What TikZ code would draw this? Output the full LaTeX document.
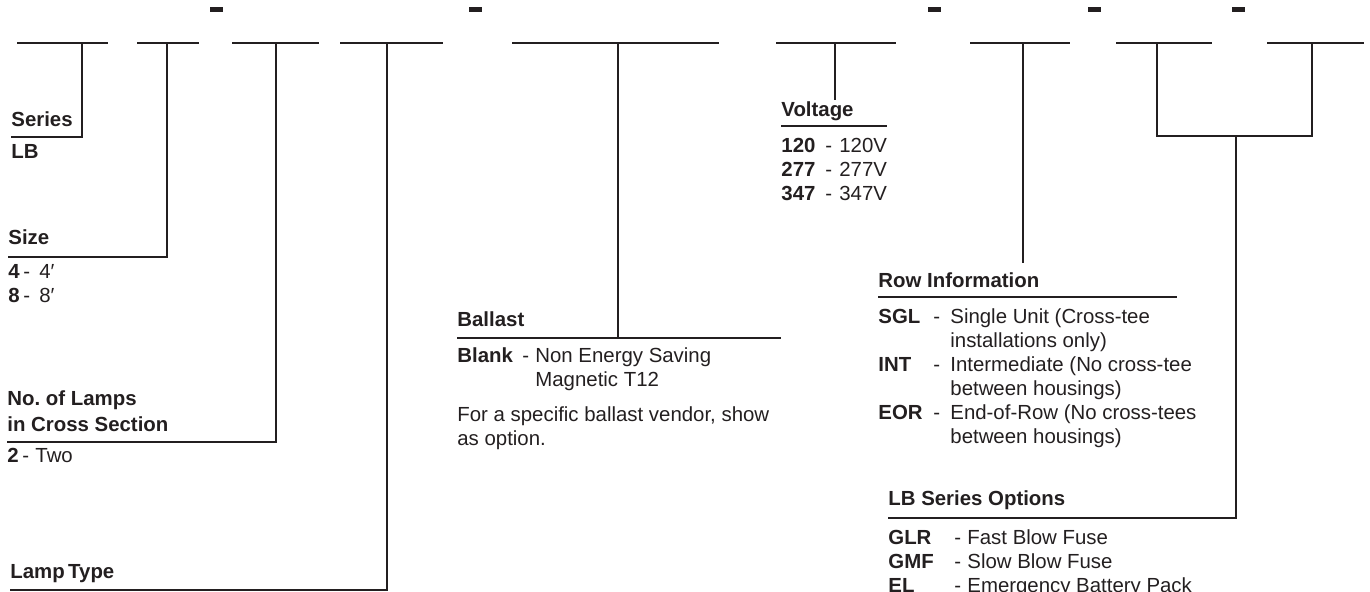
\documentclass[tikz,border=0pt]{standalone}
\usepackage{fontspec}
\setmainfont{Liberation Sans}
\usepackage{array}
\definecolor{ink}{RGB}{35,31,32}

\begin{document}
\begin{tikzpicture}[
  x=0.5pt, y=-0.5pt,
  slot/.style={draw=ink, line width=0.8pt},
  lead/.style={draw=ink, line width=0.8pt},
  head/.style={anchor=base west, inner sep=0pt, text=ink, align=left, font=\fontsize{10.2}{13}\selectfont\bfseries},
  item/.style={anchor=base west, inner sep=0pt, text=ink, align=left, font=\fontsize{10.2}{12}\selectfont},
  sep/.style={fill=ink, minimum width=6.5pt, minimum height=2.5pt, inner sep=0pt}
]
  \useasboundingbox (0,0) rectangle (1370,592);

  % Slots of the catalogue number
  \foreach \a/\b/\m [count=\i] in {17/108/82, 137/199/167, 232/319/276, 340/443/387,
      512/719/618, 776/896/835, 970/1070/1023, 1116/1212/1157, 1267/1364/1312}{
    \draw[slot] (\a,43) -- (\b,43);
    \coordinate (s\i) at (\m,43);
  }

  % Separators
  \foreach \x [count=\i] in {216.5, 475, 934.5, 1094, 1238}
    \node[sep] (d\i) at (\x,10) {};

  % Left column (base of a multi-line node = its last line)
  \node[head] (series) at (11,127) {Series};
  \node[item] (seriesv) at (11,159) {\bfseries LB};
  \coordinate (u1) at (11,137);

  \node[head] (size) at (8,245) {Size};
  \node[item] (sizev) at (8,279) {\begin{tabular}[t]{@{}p{7.5pt}@{}p{8pt}@{}l@{}}
    \textbf{4} & - & 4′\\ \textbf{8} & - & 8′\end{tabular}};
  \coordinate (u2) at (8,257);

  \node[head] (lamps) at (7,432) {No.\ of Lamps\\in Cross Section};
  \node[item] (lampsv) at (7,463) {\begin{tabular}[t]{@{}p{7.5pt}@{}p{6.5pt}@{}l@{}}
    \textbf{2} & - & Two\end{tabular}};
  \coordinate (u3) at (7,442);

  \node[head] (ltype) at (10,578) {Lamp\,Type};
  \coordinate (u4) at (10,590);

  % Ballast
  \node[head] (ballast) at (457,327) {Ballast};
  \node[item] (ballastv) at (457,363) {\begin{tabular}[t]{@{}p{32.5pt}@{}p{6.5pt}@{}l@{}}
    \textbf{Blank} & - & Non Energy Saving\\ & & Magnetic T12\end{tabular}};
  \node[item] (ballastn) at (457,446) {For a specific ballast vendor, show\\as option.};
  \coordinate (b1) at (457,338);
  \coordinate (b2) at (781,338);

  % Voltage
  \node[head] (volt) at (781,117) {Voltage};
  \node[item] (voltv) at (781,153) {\begin{tabular}[t]{@{}p{22pt}@{}p{7pt}@{}l@{}}
    \textbf{120} & - & 120V\\ \textbf{277} & - & 277V\\ \textbf{347} & - & 347V\end{tabular}};
  \coordinate (e6) at (835,100);

  % Row information
  \node[head] (row) at (878,288) {Row Information};
  \node[item] (rowv) at (878,324) {\begin{tabular}[t]{@{}p{27.5pt}@{}p{8.5pt}@{}l@{}}
    \textbf{SGL} & - & Single Unit (Cross-tee\\ & & installations only)\\
    \textbf{INT} & - & Intermediate (No cross-tee\\ & & between housings)\\
    \textbf{EOR} & - & End-of-Row (No cross-tees\\ & & between housings)\end{tabular}};
  \coordinate (e7) at (1023,263);

  % Options
  \node[head] (opt) at (888,506) {LB Series Options};
  \node[item] (optv) at (888,545) {\begin{tabular}[t]{@{}p{33pt}@{}p{6.5pt}@{}l@{}}
    \textbf{GLR} & - & Fast Blow Fuse\\ \textbf{GMF} & - & Slow Blow Fuse\\
    \textbf{EL} & - & Emergency Battery Pack\end{tabular}};
  \coordinate (j) at (1236,136);
  \coordinate (o1) at (888,518);

  % Leaders
  \draw[lead] (s1) |- (u1);
  \draw[lead] (s2) |- (u2);
  \draw[lead] (s3) |- (u3);
  \draw[lead] (s4) |- (u4);
  \draw[lead] (s5) -- (s5 |- b1);
  \draw[lead] (b1) -- (b2);
  \draw[lead] (s6) -- (e6);
  \draw[lead] (781,126) -- (887,126);
  \draw[lead] (s7) -- (e7);
  \draw[lead] (878,297) -- (1177,297);
  \draw[lead] (s8) |- (j) -| (s9);
  \draw[lead] (j) |- (o1);
\end{tikzpicture}
\end{document}
